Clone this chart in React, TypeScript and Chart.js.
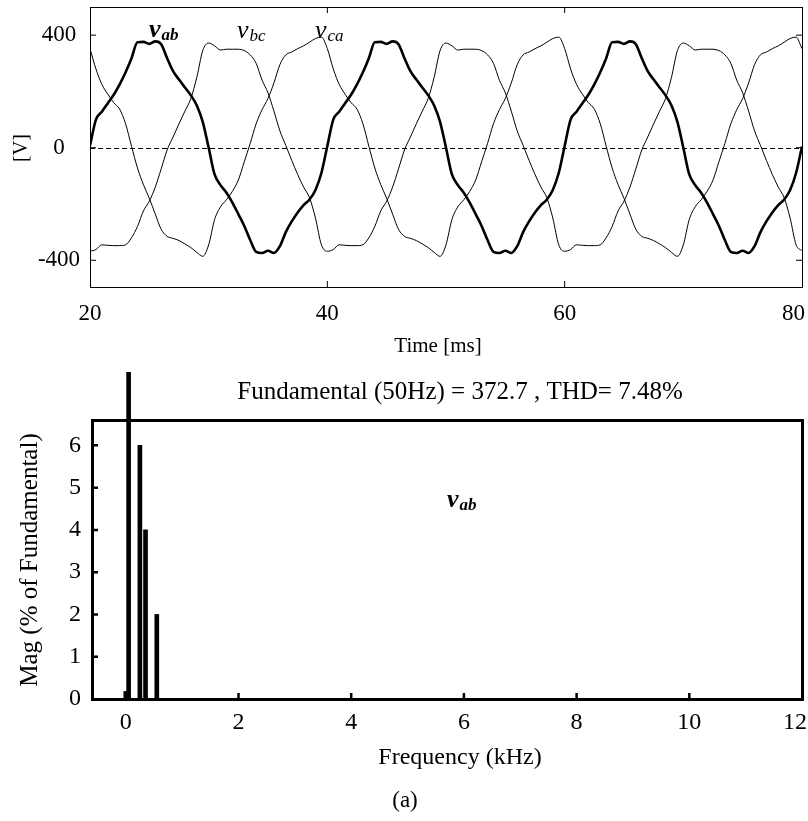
import React, { useEffect, useRef } from "react";
import { Chart, registerables } from "chart.js";

Chart.register(...registerables);

// ---------- data ----------
const TIME_MS = [
  20, 20.5, 21, 21.5, 22, 22.5, 23, 23.5, 24, 24.5, 25, 25.5, 26, 26.5, 27, 27.5, 28, 28.5, 29, 29.5,
  30, 30.5, 31, 31.5, 32, 32.5, 33, 33.5, 34, 34.5, 35, 35.5, 36, 36.5, 37, 37.5, 38, 38.5, 39, 39.5,
  40, 40.5, 41, 41.5, 42, 42.5, 43, 43.5, 44, 44.5, 45, 45.5, 46, 46.5, 47, 47.5, 48, 48.5, 49, 49.5,
  50, 50.5, 51, 51.5, 52, 52.5, 53, 53.5, 54, 54.5, 55, 55.5, 56, 56.5, 57, 57.5, 58, 58.5, 59, 59.5,
  60, 60.5, 61, 61.5, 62, 62.5, 63, 63.5, 64, 64.5, 65, 65.5, 66, 66.5, 67, 67.5, 68, 68.5, 69, 69.5,
  70, 70.5, 71, 71.5, 72, 72.5, 73, 73.5, 74, 74.5, 75, 75.5, 76, 76.5, 77, 77.5, 78, 78.5, 79, 79.5,
  80,
];

const V_AB = [
  8, 100, 128, 158, 188, 225, 268, 318, 375, 376, 369, 378, 368, 318, 272, 242, 214, 186, 150, 92,
  0, -95, -133, -160, -195, -236, -278, -328, -370, -374, -366, -374, -350, -300, -262, -230, -204, -184, -150, -90,
  6, 100, 128, 158, 188, 225, 268, 318, 375, 376, 369, 378, 368, 318, 272, 242, 214, 186, 150, 92,
  0, -95, -133, -160, -195, -236, -278, -328, -370, -374, -366, -374, -350, -300, -262, -230, -204, -184, -150, -90,
  6, 100, 128, 158, 188, 225, 268, 318, 375, 376, 369, 378, 368, 318, 272, 242, 214, 186, 150, 92,
  0, -95, -133, -160, -195, -236, -278, -328, -370, -374, -366, -374, -350, -300, -262, -230, -204, -184, -150, -90,
  4,
];

const V_BC = [
  -368, -362, -345, -347, -348, -348, -345, -320, -280, -225, -190, -140, -75, -8, 38, 85, 130, 175, 250, 345,
  372, 362, 347, 350, 350, 350, 345, 330, 300, 240, 195, 130, 60, 8, -45, -95, -140, -178, -250, -345,
  -368, -362, -345, -347, -348, -348, -345, -320, -280, -225, -190, -140, -75, -8, 38, 85, 130, 175, 250, 345,
  372, 362, 347, 350, 350, 350, 345, 330, 300, 240, 195, 130, 60, 8, -45, -95, -140, -178, -250, -345,
  -368, -362, -345, -347, -348, -348, -345, -320, -280, -225, -190, -140, -75, -8, 38, 85, 130, 175, 250, 345,
  372, 362, 347, 350, 350, 350, 345, 330, 300, 240, 195, 130, 60, 8, -45, -95, -140, -178, -250, -345,
  -366,
];

const V_CA = [
  352, 280, 225, 190, 160, 137, 85, 5, -72, -131, -180, -236, -290, -315, -322, -330, -342, -355, -372, -386,
  -345, -255, -210, -185, -155, -115, -50, 15, 85, 135, 175, 230, 295, 330, 340, 352, 362, 375, 388, 393,
  352, 280, 225, 190, 160, 137, 85, 5, -72, -131, -180, -236, -290, -315, -322, -330, -342, -355, -372, -386,
  -345, -255, -210, -185, -155, -115, -50, 15, 85, 135, 175, 230, 295, 330, 340, 352, 362, 375, 388, 393,
  352, 280, 225, 190, 160, 137, 85, 5, -72, -131, -180, -236, -290, -315, -322, -330, -342, -355, -372, -386,
  -345, -255, -210, -185, -155, -115, -50, 15, 85, 135, 175, 230, 295, 330, 340, 352, 362, 375, 388, 393,
  352,
];

const TIME_TICKS = [20, 40, 60, 80];
const VOLT_TICKS = [-400, 0, 400];

const HARMONIC_KHZ = [0, 0.05, 0.25, 0.35, 0.55];
const HARMONIC_MAG = [0.18, 100, 6, 4, 2];
const FREQ_TICKS = [0, 2, 4, 6, 8, 10, 12];
const MAG_TICKS = [0, 1, 2, 3, 4, 5, 6];

const FFT_TITLE = "Fundamental (50Hz) = 372.7 , THD= 7.48%";

const SERIF = '"Liberation Serif", "Times New Roman", serif';

// ---------- helpers ----------
function txt(
  ctx: CanvasRenderingContext2D,
  s: string,
  x: number,
  y: number,
  font: string,
  align: CanvasTextAlign = "center",
  baseline: CanvasTextBaseline = "middle",
  rot = 0
) {
  ctx.save();
  ctx.font = font;
  ctx.fillStyle = "#000";
  ctx.textAlign = align;
  ctx.textBaseline = baseline;
  ctx.translate(x, y);
  if (rot) ctx.rotate(rot);
  ctx.fillText(s, 0, 0);
  ctx.restore();
}

function subLabel(
  ctx: CanvasRenderingContext2D,
  main: string,
  sub: string,
  x: number,
  y: number,
  bold: boolean
) {
  const w = bold ? "bold " : "";
  ctx.save();
  ctx.fillStyle = "#000";
  ctx.textBaseline = "alphabetic";
  ctx.textAlign = "left";
  ctx.font = `italic ${w}26px ${SERIF}`;
  ctx.fillText(main, x, y);
  const mw = ctx.measureText(main).width;
  ctx.font = `italic ${w}17px ${SERIF}`;
  ctx.fillText(sub, x + mw + 1, y + 3);
  ctx.restore();
}

type FrameCfg = {
  lineWidth: number;
  tickLen: number;
  tickWidth: number;
  left: boolean;
  right: boolean;
  top: boolean;
  bottom: boolean;
};

function framePlugin(cfg: FrameCfg) {
  return {
    id: "frameTicks",
    afterDatasetsDraw(chart: any) {
      const { ctx, chartArea: a, scales } = chart;
      const xs = scales.x;
      const ys = scales.y;
      ctx.save();
      ctx.strokeStyle = "#000";
      ctx.lineWidth = cfg.tickWidth;
      ctx.beginPath();
      for (const t of xs.ticks) {
        const px = xs.getPixelForValue(t.value);
        if (px <= a.left + 2 || px >= a.right - 2) continue;
        if (cfg.bottom) {
          ctx.moveTo(px, a.bottom);
          ctx.lineTo(px, a.bottom - cfg.tickLen);
        }
        if (cfg.top) {
          ctx.moveTo(px, a.top);
          ctx.lineTo(px, a.top + cfg.tickLen);
        }
      }
      for (const t of ys.ticks) {
        const py = ys.getPixelForValue(t.value);
        if (py <= a.top + 2 || py >= a.bottom - 2) continue;
        if (cfg.left) {
          ctx.moveTo(a.left, py);
          ctx.lineTo(a.left + cfg.tickLen, py);
        }
        if (cfg.right) {
          ctx.moveTo(a.right, py);
          ctx.lineTo(a.right - cfg.tickLen, py);
        }
      }
      ctx.stroke();
      ctx.lineWidth = cfg.lineWidth;
      const off = cfg.lineWidth % 2 === 1 ? 0.5 : 0;
      ctx.strokeRect(a.left + off, a.top + off, a.right - a.left, a.bottom - a.top);
      ctx.restore();
    },
  };
}

const zeroLinePlugin = {
  id: "zeroLine",
  beforeDatasetsDraw(chart: any) {
    const { ctx, chartArea: a, scales } = chart;
    const py = Math.round(scales.y.getPixelForValue(0)) + 0.5;
    ctx.save();
    ctx.strokeStyle = "#000";
    ctx.lineWidth = 1;
    ctx.setLineDash([5, 3]);
    ctx.beginPath();
    ctx.moveTo(a.left, py);
    ctx.lineTo(a.right, py);
    ctx.stroke();
    ctx.restore();
  },
};

const topTextPlugin = {
  id: "topText",
  afterDraw(chart: any) {
    const { ctx, scales } = chart;
    const xs = scales.x;
    const ys = scales.y;
    const tickFont = `23px ${SERIF}`;
    for (const t of ys.ticks) {
      txt(ctx, String(t.value), 59, ys.getPixelForValue(t.value), tickFont);
    }
    ctx.save();
    ctx.font = tickFont;
    for (const t of xs.ticks) {
      const s = String(t.value);
      const w = ctx.measureText(s).width;
      let cx = xs.getPixelForValue(t.value);
      if (cx + w / 2 > 805) cx = 805 - w / 2;
      txt(ctx, s, cx, 314, tickFont);
    }
    ctx.restore();
    txt(ctx, "Time [ms]", 438, 346, `21px ${SERIF}`);
    txt(ctx, "[V]", 21.5, 148, `20px ${SERIF}`, "center", "middle", -Math.PI / 2);
    subLabel(ctx, "v", "ab", 149, 37, true);
    subLabel(ctx, "v", "bc", 237, 38, false);
    subLabel(ctx, "v", "ca", 315, 38, false);
  },
};

const bottomTextPlugin = {
  id: "bottomText",
  afterDraw(chart: any) {
    const { ctx, scales } = chart;
    const xs = scales.x;
    const ys = scales.y;
    const tickFont = `24px ${SERIF}`;
    for (const t of ys.ticks) {
      txt(ctx, String(t.value), 75, ys.getPixelForValue(t.value), tickFont);
    }
    ctx.save();
    ctx.font = tickFont;
    for (const t of xs.ticks) {
      const s = String(t.value);
      const w = ctx.measureText(s).width;
      let cx = xs.getPixelForValue(t.value);
      if (cx + w / 2 > 807) cx = 807 - w / 2;
      txt(ctx, s, cx, 363, tickFont);
    }
    ctx.restore();
    txt(ctx, FFT_TITLE, 460, 32, `25px ${SERIF}`);
    txt(ctx, "Frequency (kHz)", 460, 398, `24px ${SERIF}`);
    txt(ctx, "Mag (% of Fundamental)", 30, 200, `25px ${SERIF}`, "center", "middle", -Math.PI / 2);
    txt(ctx, "(a)", 405, 441, `23px ${SERIF}`);
    subLabel(ctx, "v", "ab", 447, 147, true);
  },
};

function hiddenScale(extra: any) {
  return {
    grid: { display: false },
    border: { display: false },
    ticks: { display: false },
    ...extra,
  };
}

export default function App() {
  const topRef = useRef<HTMLCanvasElement | null>(null);
  const botRef = useRef<HTMLCanvasElement | null>(null);

  useEffect(() => {
    const pts = (vals: number[]) => TIME_MS.map((t, i) => ({ x: t, y: vals[i] }));
    const lineDs = (label: string, vals: number[], width: number) => ({
      label,
      data: pts(vals),
      borderColor: "#000",
      backgroundColor: "#000",
      borderWidth: width,
      pointRadius: 0,
      cubicInterpolationMode: "monotone" as const,
      fill: false,
    });

    const top = new Chart(topRef.current as HTMLCanvasElement, {
      type: "line",
      data: {
        datasets: [
          lineDs("v_bc", V_BC, 1),
          lineDs("v_ca", V_CA, 1),
          lineDs("v_ab", V_AB, 2.6),
        ],
      },
      options: {
        responsive: false,
        animation: false,
        devicePixelRatio: 1,
        events: [],
        layout: { padding: { left: 0, right: 6, top: 7, bottom: 0 } },
        plugins: { legend: { display: false }, tooltip: { enabled: false } },
        scales: {
          x: hiddenScale({
            type: "linear",
            min: 20,
            max: 80,
            afterBuildTicks: (s: any) => {
              s.ticks = TIME_TICKS.map((v) => ({ value: v }));
            },
            afterFit: (s: any) => {
              s.height = 73;
            },
          }),
          y: hiddenScale({
            type: "linear",
            min: -495,
            max: 500,
            afterBuildTicks: (s: any) => {
              s.ticks = VOLT_TICKS.map((v) => ({ value: v }));
            },
            afterFit: (s: any) => {
              s.width = 90;
            },
          }),
        },
      } as any,
      plugins: [
        zeroLinePlugin,
        framePlugin({ lineWidth: 1, tickLen: 6, tickWidth: 1, left: true, right: true, top: true, bottom: true }),
        topTextPlugin,
      ],
    });

    const bot = new Chart(botRef.current as HTMLCanvasElement, {
      type: "bar",
      data: {
        datasets: [
          {
            label: "Mag",
            data: HARMONIC_KHZ.map((f, i) => ({ x: f, y: HARMONIC_MAG[i] })),
            backgroundColor: "#000",
            borderWidth: 0,
            barThickness: 4,
            clip: { left: 0, top: 48, right: 0, bottom: 0 },
          } as any,
        ],
      },
      options: {
        responsive: false,
        animation: false,
        devicePixelRatio: 1,
        events: [],
        layout: { padding: { left: 0, right: 6, top: 60, bottom: 0 } },
        plugins: { legend: { display: false }, tooltip: { enabled: false } },
        scales: {
          x: hiddenScale({
            type: "linear",
            min: -0.6,
            max: 12,
            offset: false,
            afterBuildTicks: (s: any) => {
              s.ticks = FREQ_TICKS.map((v) => ({ value: v }));
            },
            afterFit: (s: any) => {
              s.height = 122;
            },
          }),
          y: hiddenScale({
            type: "linear",
            min: 0,
            max: 6.6,
            afterBuildTicks: (s: any) => {
              s.ticks = MAG_TICKS.map((v) => ({ value: v }));
            },
            afterFit: (s: any) => {
              s.width = 92;
            },
          }),
        },
      } as any,
      plugins: [
        framePlugin({ lineWidth: 3, tickLen: 6, tickWidth: 2.5, left: true, right: false, top: false, bottom: true }),
        bottomTextPlugin,
      ],
    });

    return () => {
      top.destroy();
      bot.destroy();
    };
  }, []);

  return (
    <div
      style={{
        position: "fixed",
        left: 0,
        top: 0,
        width: 808,
        height: 821,
        background: "#fff",
        overflow: "hidden",
      }}
    >
      <canvas
        ref={topRef}
        width={808}
        height={360}
        style={{ position: "absolute", left: 0, top: 0, width: 808, height: 360 }}
      />
      <canvas
        ref={botRef}
        width={808}
        height={461}
        style={{ position: "absolute", left: 0, top: 360, width: 808, height: 461 }}
      />
    </div>
  );
}
